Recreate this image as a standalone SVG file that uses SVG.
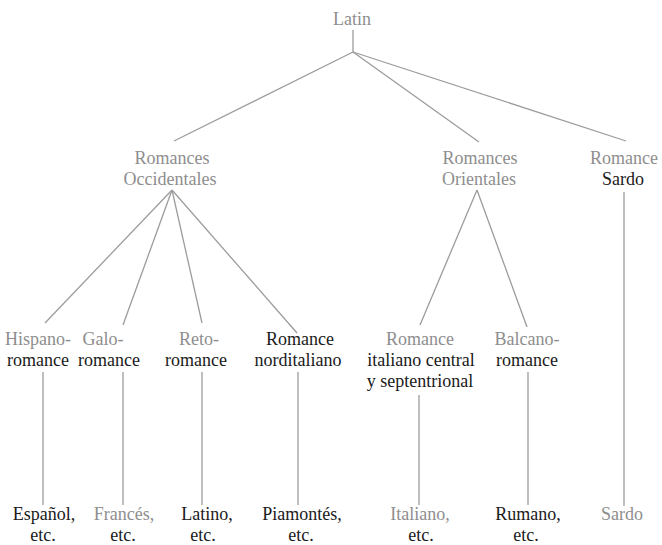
<svg xmlns="http://www.w3.org/2000/svg" width="662" height="545" viewBox="0 0 662 545">
<style>
text{font-family:"Liberation Serif","DejaVu Serif","Times New Roman",Times,serif;font-size:18px;text-anchor:middle}
.g{fill:#8e8e8e}
.k{fill:#1a1a1a}
.c line{stroke:#9c9c9c;stroke-width:1.3;fill:none}
</style>
<rect width="662" height="545" fill="#fff"/>
<g class="c" id="connectors">
<line x1="353" y1="30" x2="353" y2="52"/>
<line x1="353" y1="52" x2="174" y2="141"/>
<line x1="353" y1="52" x2="479" y2="142"/>
<line x1="353" y1="52" x2="626" y2="141"/>
<line x1="172" y1="190" x2="45" y2="323"/>
<line x1="172" y1="190" x2="123" y2="325"/>
<line x1="172" y1="190" x2="202" y2="323"/>
<line x1="172" y1="190" x2="297" y2="333"/>
<line x1="477" y1="190" x2="420" y2="325"/>
<line x1="477" y1="190" x2="527" y2="327"/>
<line x1="624" y1="192" x2="624" y2="506"/>
<line x1="43" y1="372" x2="43" y2="505"/>
<line x1="123" y1="372" x2="123" y2="505"/>
<line x1="202" y1="372" x2="202" y2="505"/>
<line x1="298" y1="372" x2="298" y2="505"/>
<line x1="419" y1="395" x2="419" y2="505"/>
<line x1="528" y1="372" x2="528" y2="505"/>
</g>
<g id="latin"><text class="g" x="352" y="25">Latin</text></g>
<g id="occidentales"><text class="g" x="172" y="164">Romances</text><text class="g" x="170" y="185">Occidentales</text></g>
<g id="orientales"><text class="g" x="480" y="164">Romances</text><text class="g" x="479" y="185">Orientales</text></g>
<g id="sardo-rom"><text class="g" x="624" y="164">Romance</text><text class="k" x="623" y="185">Sardo</text></g>
<g id="hispano"><text class="g" x="38" y="345">Hispano-</text><text class="k" x="38" y="366">romance</text></g>
<g id="galo"><text class="g" x="103" y="345">Galo-</text><text class="k" x="109" y="366">romance</text></g>
<g id="reto"><text class="g" x="199" y="345">Reto-</text><text class="k" x="196" y="366">romance</text></g>
<g id="norditaliano"><text class="k" x="300" y="345">Romance</text><text class="k" x="298" y="366">norditaliano</text></g>
<g id="italiano-central"><text class="g" x="420" y="345">Romance</text><text class="k" x="421" y="366">italiano central</text><text class="k" x="420" y="387">y septentrional</text></g>
<g id="balcano"><text class="g" x="527" y="345">Balcano-</text><text class="k" x="527" y="366">romance</text></g>
<g id="espanol"><text class="k" x="44" y="520">Español,</text><text class="k" x="43" y="541">etc.</text></g>
<g id="frances"><text class="g" x="124" y="520">Francés,</text><text class="k" x="123" y="541">etc.</text></g>
<g id="latino"><text class="k" x="207" y="520">Latino,</text><text class="k" x="203" y="541">etc.</text></g>
<g id="piamontes"><text class="k" x="302" y="520">Piamontés,</text><text class="k" x="301" y="541">etc.</text></g>
<g id="italiano"><text class="g" x="420" y="520">Italiano,</text><text class="k" x="421" y="541">etc.</text></g>
<g id="rumano"><text class="k" x="528" y="520">Rumano,</text><text class="k" x="526" y="541">etc.</text></g>
<g id="sardo"><text class="g" x="622" y="520">Sardo</text></g>
</svg>
